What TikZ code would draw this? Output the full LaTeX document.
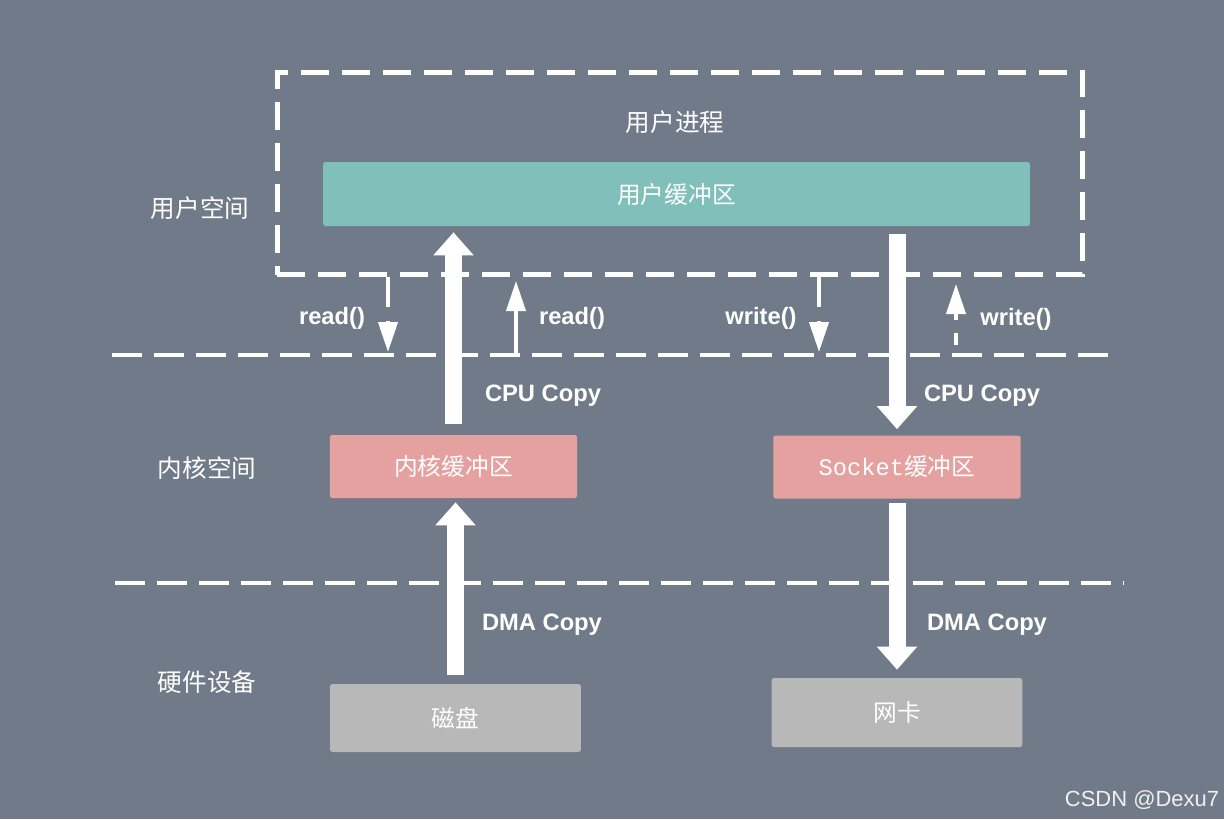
\documentclass[tikz,border=0pt]{standalone}
\usepackage{fontspec}
\setmainfont{Liberation Sans}
\newfontfamily\cjk{Noto Sans CJK SC}
\newfontfamily\monofont{Liberation Mono}
\usepackage{xcolor}
\usepackage{tikz}
\usetikzlibrary{arrows.meta, positioning}
\definecolor{bgcolor}{HTML}{717A89}
\definecolor{tealbuf}{HTML}{80BFBA}
\definecolor{pinkbuf}{HTML}{E5A19F}
\definecolor{greydev}{HTML}{B8B8B8}
\tikzset{
  areanode/.style={text=white, font=\cjk\fontsize{14}{16}\selectfont},
  bufnode/.style={rectangle, rounded corners=1pt, text=white, inner sep=0pt, font=\cjk\fontsize{13.5}{16}\selectfont},
  userbuf/.style={bufnode, fill=tealbuf, minimum width=14.14cm, minimum height=1.28cm},
  kernbuf/.style={bufnode, fill=pinkbuf, minimum width=4.95cm, minimum height=1.26cm},
  devnode/.style={bufnode, fill=greydev, minimum width=5.02cm, minimum height=1.36cm},
  procbox/.style={draw=white, line width=0.1cm, dash pattern=on 0.56cm off 0.26cm, minimum width=16.12cm, minimum height=4.06cm},
  sepline/.style={white, line width=0.09cm, dash pattern=on 0.6cm off 0.24cm},
  copylabel/.style={text=white, font=\bfseries\fontsize{13.5}{16}\selectfont},
  bigarrow/.style={white, line width=0.34cm, -{Triangle[length=0.46cm, width=0.78cm]}},
  callarrow/.style={white, line width=0.08cm, dash pattern=on 0.6cm off 0.28cm, -{Triangle[length=0.6cm, width=0.38cm]}}
}
\begin{document}
\begin{tikzpicture}[x=0.02cm, y=-0.02cm]

% Background
\fill[bgcolor] (0,0) rectangle (1224,819);
\useasboundingbox (0,0) rectangle (1224,819);

% Nodes
\node[procbox] (UP) at (680,173.5) {};
\node[areanode] (UPT) at (675,122) {用户进程};
\node[userbuf] (UB) at (676.5,194) {用户缓冲区};
\node[kernbuf] (KB) at (453.5,466.5) {内核缓冲区};
\node[kernbuf] (SB) at (897,467) {{\monofont Socket}缓冲区};
\node[devnode] (DK) at (455.5,718) {磁盘};
\node[devnode, minimum height=1.38cm] (NC) at (897,712.5) {网卡};

\node[areanode] (US) at (200,208) {用户空间};
\node[areanode] (KS) at (207,468) {内核空间};
\node[areanode] (HW) at (207,682) {硬件设备};

% Separators
\coordinate (L1W) at (112,355);
\coordinate (L1E) at (1108,355);
\coordinate (L2W) at (115,583);
\coordinate (L2E) at (1123,583);
\draw[sepline] (L1W) -- (L1E);
\draw[sepline] (L2W) -- (L2E);

% Calls
\coordinate (R1) at (388,352);
\coordinate (R2) at (516,281);
\coordinate (W1) at (819,352);
\coordinate (W2) at (956,284);
\coordinate (W2S) at (956,345);
\draw[callarrow] (R1 |- UP.south) -- (R1);
\draw[callarrow, solid] (R2 |- L1W) -- (R2);
\draw[callarrow] (W1 |- UP.south) -- (W1);
\draw[callarrow, dash pattern=on 0.24cm off 0.26cm] (W2S) -- (W2);

\node[copylabel] (RL1) at (332,318) {read()};
\node[copylabel] (RL2) at (572,318) {read()};
\node[copylabel] (WL1) at (761,318) {write()};
\node[copylabel] (WL2) at (1016,319) {write()};

% Copies
\draw[bigarrow, shorten <=0.22cm, shorten >=0.12cm] (KB.north) -- (KB.north |- UB.south);
\draw[bigarrow, shorten <=0.18cm, shorten >=0.08cm] (DK.north) -- (DK.north |- KB.south);
\draw[bigarrow, shorten <=0.16cm, shorten >=0.12cm] (SB.north |- UB.south) -- (SB.north);
\draw[bigarrow, shorten <=0.08cm, shorten >=0.16cm] (SB.south) -- (NC.north);

\node[copylabel] (C1) at (543,396) {CPU Copy};
\node[copylabel] (C2) at (982,396) {CPU Copy};
\node[copylabel] (D1) at (542,625) {DMA Copy};
\node[copylabel] (D2) at (987,625) {DMA Copy};

\node[text=gray!12, font=\fontsize{12.5}{14}\selectfont] (WM) at (1142,800) {CSDN @Dexu7};

\end{tikzpicture}
\end{document}
